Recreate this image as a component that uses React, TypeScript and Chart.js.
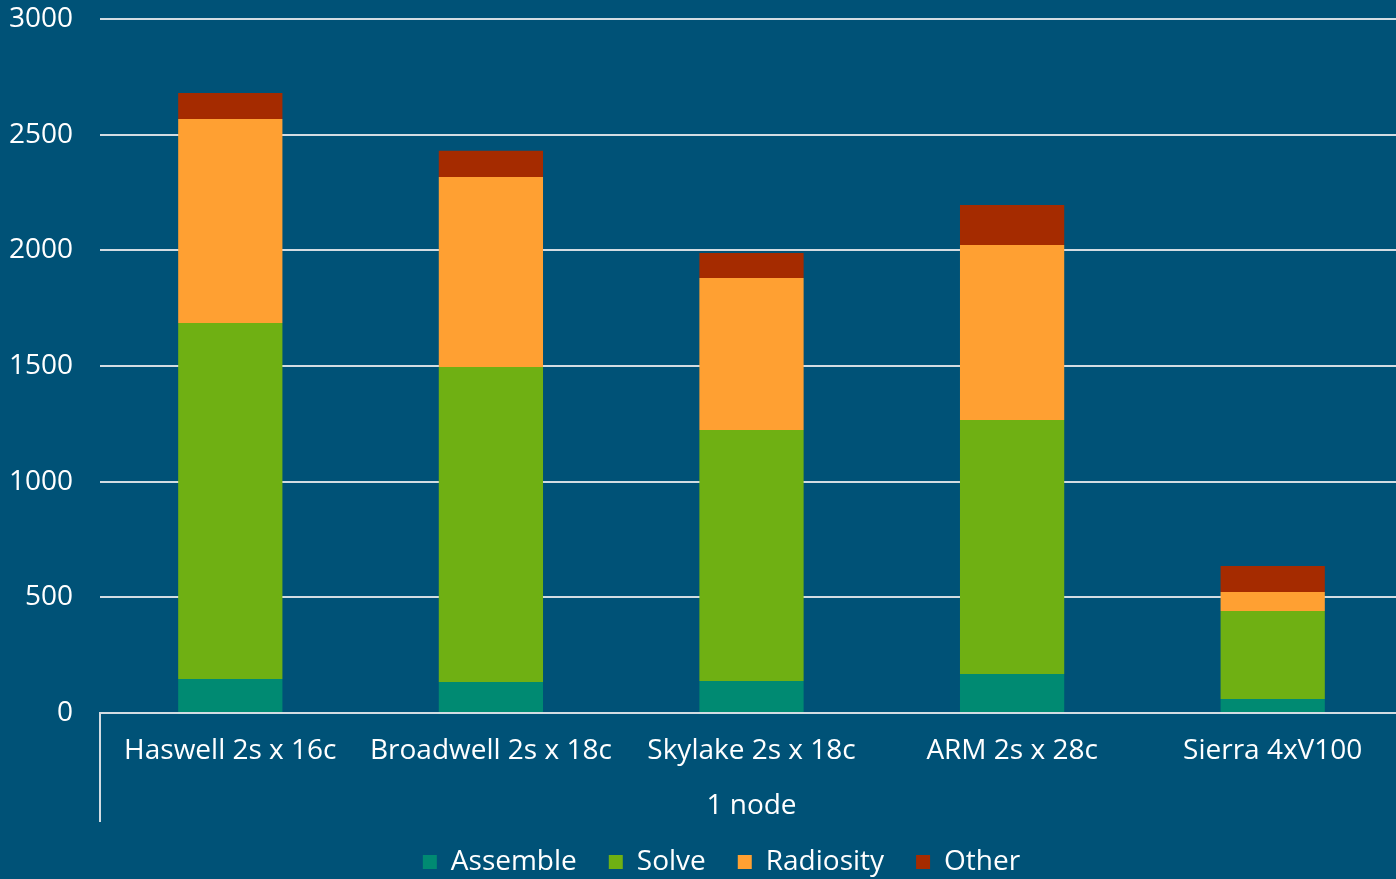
import React, { useEffect, useRef } from "react";
import { Chart, registerables } from "chart.js";

Chart.register(...registerables);

const categories = [
  "Haswell 2s x 16c",
  "Broadwell 2s x 18c",
  "Skylake 2s x 18c",
  "ARM 2s x 28c",
  "Sierra 4xV100",
];
const assemble = [147, 134, 138, 169, 61];
const solve = [1539, 1362, 1085, 1098, 380];
const radiosity = [882, 821, 657, 756, 82];
const other = [112, 113, 109, 173, 112];
const groupLabel = "1 node";
const yMin = 0;
const yMax = 3000;
const yStep = 500;

const BG = "#005277";
const GRID = "#D3DCE2";
const FONT = "'Open Sans', 'Noto Sans', sans-serif";
const FS = 28;
const LEGEND_H = 63;
const LEGEND_SHIFT = 20;

export default function App() {
  const ref = useRef<HTMLCanvasElement | null>(null);

  useEffect(() => {
    if (!ref.current) return;
    const helper = {
      id: "bgAndGroup",
      beforeInit(chart: any) {
        const lg = chart.legend;
        if (lg && !lg.__patched) {
          const orig = lg.fit.bind(lg);
          lg.fit = function () {
            orig();
            this.height = LEGEND_H;
          };
          lg.__patched = true;
        }
      },
      afterLayout(chart: any) {
        const lg = chart.legend;
        if (lg) {
          lg.left += LEGEND_SHIFT;
          lg.right += LEGEND_SHIFT;
        }
      },
      beforeDraw(chart: any) {
        const ctx = chart.ctx;
        ctx.save();
        ctx.fillStyle = BG;
        ctx.fillRect(0, 0, chart.width, chart.height);
        ctx.restore();
      },
      afterDraw(chart: any) {
        const ctx = chart.ctx;
        const x = chart.scales.x;
        ctx.save();
        ctx.strokeStyle = GRID;
        ctx.lineWidth = 2;
        ctx.beginPath();
        ctx.moveTo(chart.chartArea.left, chart.chartArea.bottom);
        ctx.lineTo(chart.chartArea.left, x.bottom + 6);
        ctx.stroke();
        ctx.restore();
      },
    };

    const chart = new Chart(ref.current, {
      type: "bar",
      data: {
        labels: categories,
        datasets: [
          { label: "Assemble", data: assemble, backgroundColor: "#008A72" },
          { label: "Solve", data: solve, backgroundColor: "#6FB013" },
          { label: "Radiosity", data: radiosity, backgroundColor: "#FFA032" },
          { label: "Other", data: other, backgroundColor: "#A52B00" },
        ],
      },
      options: {
        responsive: false,
        animation: false,
        layout: { padding: { top: 19, bottom: 0, left: 0, right: 0 } },
        datasets: { bar: { barPercentage: 0.4, categoryPercentage: 1 } },
        plugins: {
          legend: {
            position: "bottom",
            labels: {
              color: "#ffffff",
              boxWidth: 14,
              boxHeight: 14,
              padding: 32,
              font: { family: FONT, size: FS },
            },
          },
          tooltip: { enabled: false },
        },
        scales: {
          x: {
            stacked: true,
            grid: { display: false, drawTicks: false },
            border: { display: true, color: GRID, width: 2 },
            ticks: { color: "#ffffff", padding: 21, font: { family: FONT, size: FS } },
            title: {
              display: true,
              text: groupLabel,
              color: "#ffffff",
              font: { family: FONT, size: FS },
              padding: { top: 0, bottom: -7 },
            },
            afterFit(scale: any) {
              scale.height = 103;
            },
          },
          y: {
            stacked: true,
            min: yMin,
            max: yMax,
            ticks: {
              stepSize: yStep,
              color: "#ffffff",
              padding: 27,
              font: { family: FONT, size: FS },
              callback: (v: any) => String(v),
            },
            grid: { color: GRID, lineWidth: 2, drawTicks: false },
            border: { display: false },
            afterFit(scale: any) {
              scale.width = 100;
              scale.paddingTop = 0;
              scale.paddingBottom = 0;
            },
          },
        },
      },
      plugins: [helper],
    } as any);
    return () => chart.destroy();
  }, []);

  return (
    <div
      style={{
        position: "fixed",
        left: 0,
        top: 0,
        width: 1396,
        height: 879,
        overflow: "hidden",
        background: BG,
      }}
    >
      <canvas ref={ref} width={1403} height={879} style={{ display: "block" }} />
    </div>
  );
}
